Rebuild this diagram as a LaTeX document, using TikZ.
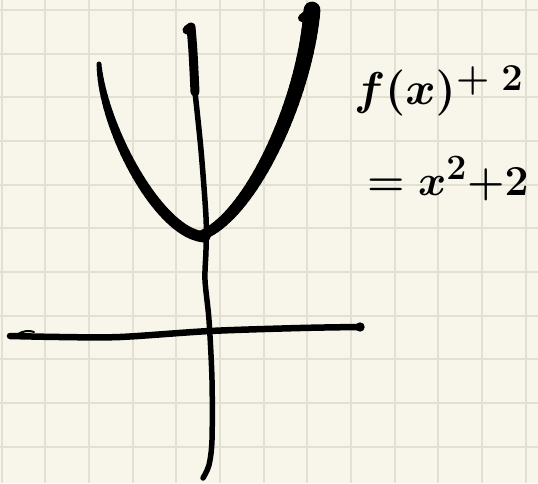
\documentclass[tikz,border=0pt]{standalone}
\usepackage{amsmath}
\usepackage{amssymb}
\usepackage{graphicx}
\usepackage{tikz}
\usepackage{xcolor}
\definecolor{paper}{HTML}{F8F6EA}
\definecolor{gridgray}{HTML}{E2E0D3}

\begin{document}
\begin{tikzpicture}[x=1pt,y=-1pt,
  ink/.style={black,line cap=round,line join=round},
  label/.style={inner sep=0pt,outer sep=0pt,anchor=base west,font=\Huge}]
\fill[paper] (0,0) rectangle (538,483);
\useasboundingbox (0,0) rectangle (538,483);
% squared paper
\foreach \i in {0,...,12} \draw[gridgray,line width=2pt] ({1.7+43.65*\i},0) -- ++(0,483);
\foreach \j in {0,...,11} \draw[gridgray,line width=2pt] (0,{10+43.65*\j}) -- ++(538,0);
% x axis
\draw[ink,line width=6.5pt] plot[smooth] coordinates {(10,336) (60,337) (120,337) (210,331) (300,328) (358,327)};
\fill (360,327) circle (4.7pt);
\draw[ink,line width=2pt] (18,334) .. controls (23,331) and (29,330) .. (34,332);
% y axis
\draw[ink,line width=9pt] (187,30) -- (191,27) .. controls (193,50) .. (195,92);
\draw[ink,line width=5.5pt] plot[smooth] coordinates {(195,92) (201,150) (206,217) (206,250) (205,280) (209,320) (212,380) (212,440) (209,465) (203,478)};
% parabola, two branches drawn in short pieces so the pen gets wider
\path (99,64) .. controls (103,130) and (160,235) .. (205,237)
  \foreach \i in {0,...,40} {coordinate[pos=\i/40] (l\i)};
\path (200,236) .. controls (250,218) and (305,100) .. (312,10)
  \foreach \i in {0,...,40} {coordinate[pos=\i/40] (r\i)};
\foreach \i [evaluate=\i as \j using int(\i+1),
             evaluate=\i as \w using 11-6*(1-\i/40)^3] in {0,...,39}
  \draw[ink,line width=\w pt] (l\i) -- (l\j);
\foreach \i [evaluate=\i as \j using int(\i+1),
             evaluate=\i as \w using 10+7*\i/40] in {0,...,39}
  \draw[ink,line width=\w pt] (r\i) -- (r\j);
\draw[ink,line width=8pt] (302,18) -- (r40);
% labels
\node[label] (lhs) at (354,104) {\scalebox{1.85}{$\boldsymbol{f(x)}$}};
\node[label] (shift) at (456,90) {\scalebox{1.53}{$\boldsymbol{+\;2}$}};
\node[label] (rhs) at (367,195) {\scalebox{1.72}{$\boldsymbol{=x^2{+}2}$}};
\end{tikzpicture}
\end{document}
